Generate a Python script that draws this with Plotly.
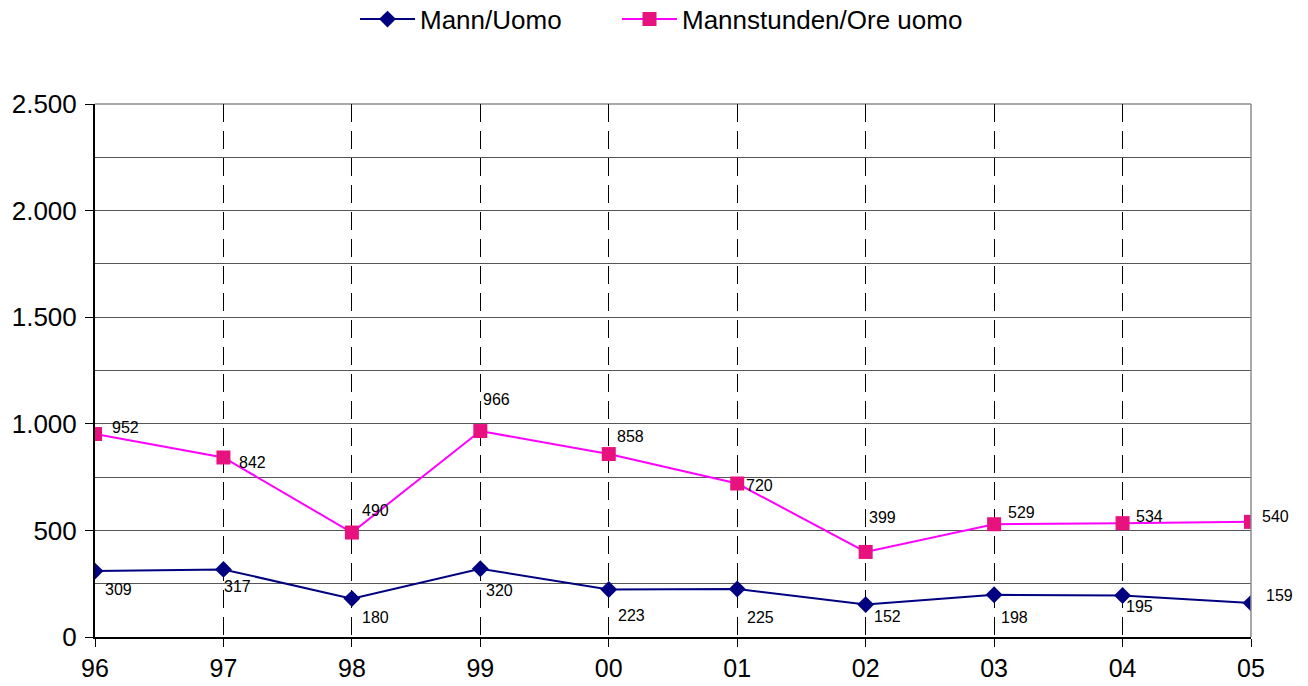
import plotly.graph_objects as go

# Years (two-digit) and yearly totals
years = ["96", "97", "98", "99", "00", "01", "02", "03", "04", "05"]
mann = [309, 317, 180, 320, 223, 225, 152, 198, 195, 159]
mannstunden = [952, 842, 490, 966, 858, 720, 399, 529, 534, 540]

# Label offsets in pixels (dx, dy) relative to each marker
mann_label_off = [(23, -18), (14, -17), (24, -19), (19, -22), (23, -26),
                  (23, -28), (22, -12), (20, -23), (17, -11), (28, 8)]
stunden_label_off = [(30, 7), (29, -5), (24, 22), (16, 32), (22, 18),
                     (22, -2), (17, 34), (27, 12), (27, 7), (24, 5)]

NAVY = "#000080"
MAGENTA_LINE = "#FF00FF"
MAGENTA_FILL = "#E8127F"
FONT = "Liberation Sans, Arial, sans-serif"
W, H = 1308, 686

fig = go.Figure()
fig.add_trace(go.Scatter(
    x=years, y=mann, mode="lines+markers", name="Mann/Uomo",
    line=dict(color=NAVY, width=2),
    marker=dict(symbol="diamond", size=13, color=NAVY),
    legend="legend",
))
fig.add_trace(go.Scatter(
    x=years, y=mannstunden, mode="lines+markers", name="Mannstunden/Ore uomo",
    line=dict(color=MAGENTA_LINE, width=2),
    marker=dict(symbol="square", size=14, color=MAGENTA_FILL),
    legend="legend2",
))

# value labels, positioned by category index on the category axis
annotations = []
for vals, offs in ((mann, mann_label_off), (mannstunden, stunden_label_off)):
    for i, (yv, (dx, dy)) in enumerate(zip(vals, offs)):
        annotations.append(dict(
            x=i, y=yv, text=str(yv), showarrow=False,
            xshift=dx, yshift=dy, xanchor="center", yanchor="middle",
            font=dict(family=FONT, size=16, color="#000"),
        ))

legend_style = dict(
    orientation="h", xref="container", xanchor="left",
    yref="container", y=0.972, yanchor="middle",
    font=dict(family=FONT, size=26), itemwidth=55,
    bgcolor="rgba(0,0,0,0)",
)

fig.update_layout(
    width=W, height=H,
    margin=dict(l=95, r=57, t=104, b=49, autoexpand=False),
    paper_bgcolor="white", plot_bgcolor="white",
    separators=",.",
    font=dict(family=FONT, color="#000"),
    showlegend=True,
    legend=dict(x=355 / W, **legend_style),
    legend2=dict(x=617 / W, **legend_style),
    annotations=annotations,
    shapes=[
        dict(type="line", xref="paper", yref="paper", x0=1, x1=1, y0=0, y1=1,
             line=dict(color="#8c8c8c", width=1.5), layer="above"),
        dict(type="line", xref="paper", yref="paper", x0=0, x1=1, y0=1, y1=1,
             line=dict(color="#8c8c8c", width=1.5), layer="below"),
    ],
)

fig.update_xaxes(
    type="category", range=[0, len(years) - 1],
    showgrid=True, gridcolor="#000", gridwidth=1, griddash="18px,9px",
    showline=True, linecolor="#000", linewidth=2,
    ticks="outside", ticklen=8, tickcolor="#000",
    ticklabelstandoff=0,
    tickfont=dict(family=FONT, size=25),
    zeroline=False,
)
fig.update_yaxes(
    range=[0, 2500], dtick=500, tickformat=",d",
    showgrid=True, gridcolor="#555", gridwidth=1,
    minor=dict(dtick=250, showgrid=True, gridcolor="#555", gridwidth=1),
    showline=True, linecolor="#000", linewidth=2,
    ticks="outside", ticklen=8, tickcolor="#000",
    ticklabelstandoff=3,
    tickfont=dict(family=FONT, size=26),
    zeroline=False,
)

fig.write_html("out.html")
